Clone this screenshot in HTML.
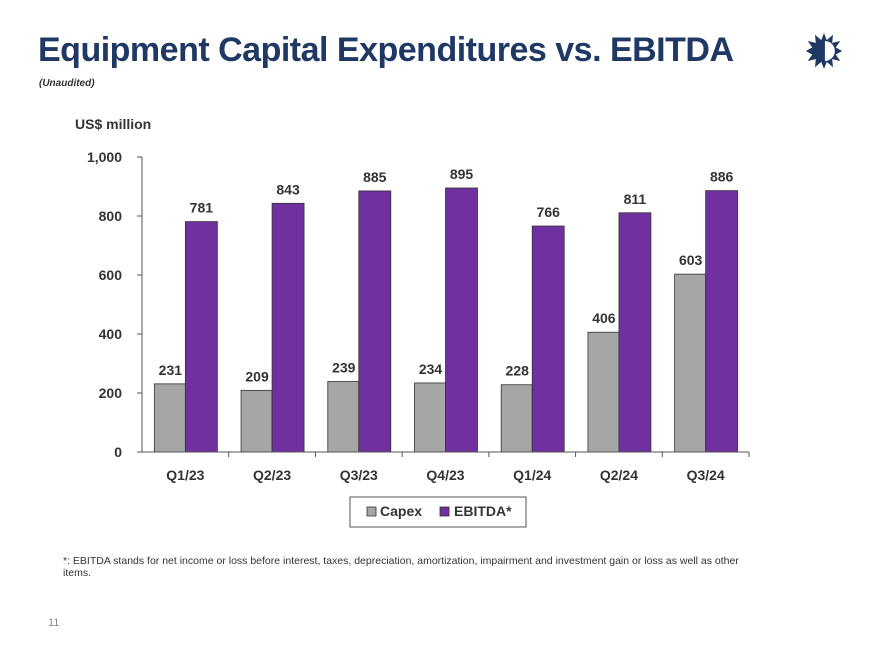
<!DOCTYPE html>
<html><head><meta charset="utf-8"><style>
body{margin:0;width:876px;height:653px;background:#fff;font-family:"Liberation Sans",sans-serif;position:relative;overflow:hidden}
.t{position:absolute;left:38px;top:31px;font-size:34px;font-weight:bold;color:#1f3864;letter-spacing:-0.5px}
.s{position:absolute;left:39px;top:78px;font-size:10px;font-style:italic;font-weight:bold;color:#333}
.u{position:absolute;left:75px;top:116px;font-size:14px;font-weight:bold;color:#333}
.f{position:absolute;left:63px;top:555px;width:700px;font-size:10.5px;color:#333;line-height:12px}
.p{position:absolute;left:48px;top:617px;font-size:11px;color:#888}
</style></head><body>
<div class="t">Equipment Capital Expenditures vs. EBITDA</div>
<div class="s">(Unaudited)</div>
<div class="u">US$ million</div>
<svg style="position:absolute;left:805px;top:32px" width="38" height="38" viewBox="0 0 42 42">
<polygon fill="#1f3864" points="21,1 24,9 31,3 30,12 39,10 34,17 41,21 34,25 39,32 30,30 31,39 24,33 21,41 18,33 11,39 12,30 3,32 8,25 1,21 8,17 3,10 12,12 11,3 18,9"/>
<path d="M22 10 A11 11 0 0 1 22 32 Z" fill="#fff"/></svg>
<svg id="c" width="876" height="653" style="position:absolute;left:0;top:0"></svg>
<div class="f">*: EBITDA stands for net income or loss before interest, taxes, depreciation, amortization, impairment and investment gain or loss as well as other items.</div>
<div class="p">11</div>
<script>
const categories=["Q1/23","Q2/23","Q3/23","Q4/23","Q1/24","Q2/24","Q3/24"];
const capex=[231,209,239,234,228,406,603];
const ebitda=[781,843,885,895,766,811,886];
const ticks=[0,200,400,600,800,1000];
const tickLabels=["0","200","400","600","800","1,000"];
const svg=document.getElementById('c');const NS="http://www.w3.org/2000/svg";
const x0=142,x1=749,y0=452,yTop=157;
const y=v=>y0-(v/1000)*(y0-yTop);
const bw=(x1-x0)/categories.length;
function mk(t,a,txt){const e=document.createElementNS(NS,t);for(const k in a)e.setAttribute(k,a[k]);if(txt!=null)e.textContent=txt;svg.appendChild(e);return e;}
ticks.forEach((t,i)=>{
const l=mk('line',{x1:x0-5,x2:x0,y1:y(t),y2:y(t),stroke:'#555'});


const tx=mk('text',{x:x0-20,y:y(t)+5,'text-anchor':'end','font-size':14,'font-weight':'bold',fill:'#333'},tickLabels[i]);


});
categories.forEach((c,i)=>{
const cx=x0+bw*(i+0.5);
const b1=mk('rect',{x:cx-31,y:y(capex[i]),width:31,height:y0-y(capex[i]),fill:'#a6a6a6',stroke:'#333','stroke-width':0.8});


const b2=mk('rect',{x:cx,y:y(ebitda[i]),width:32,height:y0-y(ebitda[i]),fill:'#7030a0',stroke:'#333','stroke-width':0.8});


const l1=mk('text',{x:cx-15,y:y(capex[i])-9,'text-anchor':'middle','font-size':14,'font-weight':'bold',fill:'#333'},capex[i]);


const l2=mk('text',{x:cx+16,y:y(ebitda[i])-9,'text-anchor':'middle','font-size':14,'font-weight':'bold',fill:'#333'},ebitda[i]);


const xl=mk('text',{x:cx,y:480,'text-anchor':'middle','font-size':14,'font-weight':'bold',fill:'#333'},c);


const tk=mk('line',{x1:x0+bw*(i+1),x2:x0+bw*(i+1),y1:y0,y2:y0+5,stroke:'#555'});


});
const ya=mk('line',{x1:x0,x2:x0,y1:yTop,y2:y0,stroke:'#555'});


const xa=mk('line',{x1:x0,x2:x1,y1:y0,y2:y0,stroke:'#555'});


const lg=mk('rect',{x:350,y:497,width:176,height:30,fill:'#fff',stroke:'#555'});


const s1=mk('rect',{x:367,y:507,width:9,height:9,fill:'#a6a6a6',stroke:'#333','stroke-width':0.8});


const t1=mk('text',{x:380,y:516,'font-size':14,'font-weight':'bold',fill:'#333'},'Capex');


const s2=mk('rect',{x:440,y:507,width:9,height:9,fill:'#7030a0',stroke:'#333','stroke-width':0.8});


const t2=mk('text',{x:454,y:516,'font-size':14,'font-weight':'bold',fill:'#333'},'EBITDA*');


</script>
</body></html>
